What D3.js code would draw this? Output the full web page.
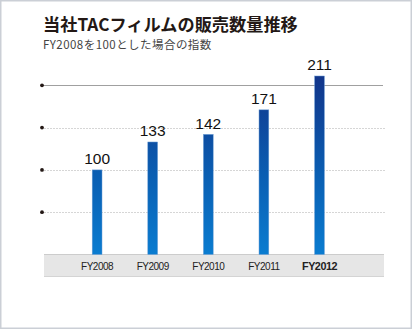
<!DOCTYPE html>
<html><head><meta charset="utf-8">
<script src="https://cdn.jsdelivr.net/npm/d3@7"></script>
<style>
html,body{margin:0;padding:0;background:#fff;}
svg{display:block;}
</style></head>
<body>
<script>
const categories = ["FY2008","FY2009","FY2010","FY2011","FY2012"];
const values = [100,133,142,171,211];
const yTicks = [50,100,150,200];
const title = "当社TACフィルムの販売数量推移";
const subtitle = "FY2008を100とした場合の指数";

const W = 412, H = 329;
const svg = d3.select("body").append("svg").attr("width", W).attr("height", H);

// frame
svg.append("rect").attr("x",0.75).attr("y",0.75).attr("width",W-1.5).attr("height",H-1.5)
  .attr("fill","#fff").attr("stroke","#cbcfd6").attr("stroke-width",1.5);

// titles
svg.append("text").attr("x",43).attr("y",31).text(title)
  .attr("font-family","'Noto Sans CJK JP', sans-serif").attr("font-weight","bold")
  .attr("font-size",17.2).attr("fill","#231815");
svg.append("text").attr("x",43).attr("y",49).text(subtitle)
  .attr("font-family","'Noto Sans CJK JP', sans-serif")
  .attr("font-size",11.5).attr("letter-spacing",0.45).attr("fill","#444");

const baseY = 254.5;
const y = d3.scaleLinear().domain([0,200]).range([baseY, 85.3]);
const x = d3.scaleBand().domain(categories).range([69.3, 347.3]).paddingInner(0).paddingOuter(0);
const barW = 9.8;

// gridlines
yTicks.forEach(t => {
  const yy = Math.round(y(t)) + 0.5;
  if (t === 200) {
    svg.append("line").attr("x1",42).attr("x2",383).attr("y1",yy).attr("y2",yy)
      .attr("stroke","#a0a0a0").attr("stroke-width",1);
  } else {
    svg.append("line").attr("x1",44).attr("x2",385).attr("y1",yy).attr("y2",yy)
      .attr("stroke","#d6d6d6").attr("stroke-width",1).attr("stroke-dasharray","2,1");
  }
  svg.append("circle").attr("cx",42).attr("cy",y(t)).attr("r",1.9).attr("fill","#231815");
});

// gradient
const defs = svg.append("defs");
const grad = defs.append("linearGradient").attr("id","barGrad")
  .attr("gradientUnits","userSpaceOnUse").attr("x1",0).attr("x2",0)
  .attr("y1", y(211)).attr("y2", baseY);
grad.append("stop").attr("offset","0%").attr("stop-color","#12358a");
grad.append("stop").attr("offset","55%").attr("stop-color","#0a5eb2");
grad.append("stop").attr("offset","100%").attr("stop-color","#0a7cd0");

// axis band
svg.append("rect").attr("x",44).attr("y",254).attr("width",340).attr("height",22.5)
  .attr("fill","#e6e6e6");
svg.append("line").attr("x1",44).attr("x2",384).attr("y1",254.5).attr("y2",254.5)
  .attr("stroke","#cccccc").attr("stroke-width",1);
svg.append("line").attr("x1",44).attr("x2",384).attr("y1",276.5).attr("y2",276.5)
  .attr("stroke","#d4d4d4").attr("stroke-width",1);

// bars
svg.selectAll("rect.bar").data(values).join("rect").attr("class","bar")
  .attr("x",(d,i)=> x(categories[i]) + x.bandwidth()/2 - barW/2)
  .attr("y", d => y(d))
  .attr("width", barW)
  .attr("height", d => baseY - y(d))
  .attr("fill","url(#barGrad)")
  .attr("stroke","#6f9fd6").attr("stroke-width",0.5);

// value labels
svg.selectAll("text.val").data(values).join("text").attr("class","val")
  .attr("x",(d,i)=> x(categories[i]) + x.bandwidth()/2)
  .attr("y", d => y(d) - 5.6)
  .attr("text-anchor","middle")
  .attr("font-family","'Liberation Sans', Arial, sans-serif")
  .attr("font-size",15.5).attr("fill","#111")
  .text(d => d);

// category labels
svg.selectAll("text.cat").data(categories).join("text").attr("class","cat")
  .attr("x", d => x(d) + x.bandwidth()/2)
  .attr("y", 269.5)
  .attr("text-anchor","middle")
  .attr("font-family","'Liberation Sans', Arial, sans-serif")
  .attr("font-size",(d,i)=> i===categories.length-1 ? 10.8 : 10)
  .attr("font-weight",(d,i)=> i===categories.length-1 ? "bold" : "normal")
  .attr("letter-spacing",-0.5)
  .attr("fill","#222")
  .text(d => d);
</script>
</body></html>
